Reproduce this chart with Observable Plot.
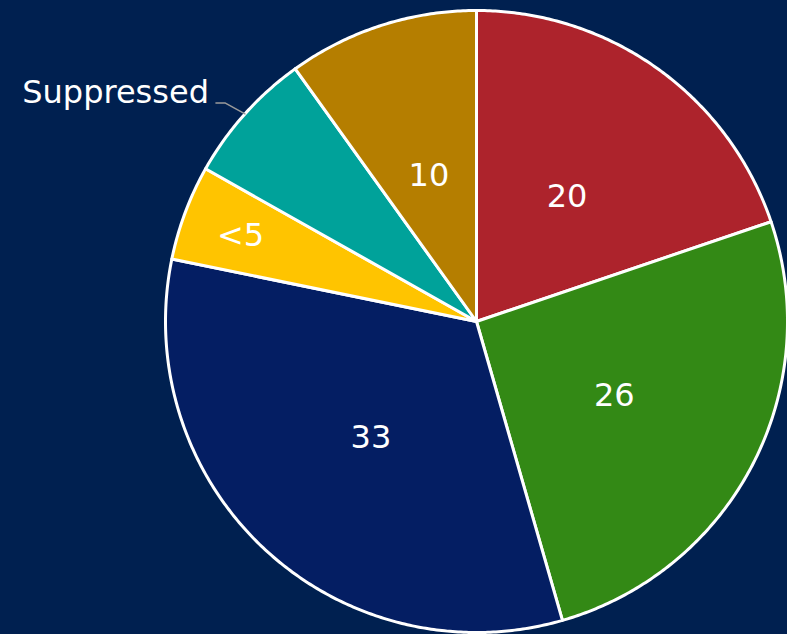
<!DOCTYPE html>
<html>
<head>
<meta charset="utf-8">
<script src="https://cdn.jsdelivr.net/npm/d3@7"></script>
<script src="https://cdn.jsdelivr.net/npm/@observablehq/plot@0.6"></script>
<style>
  html, body { margin: 0; padding: 0; background: #002050; }
  #chart svg { display: block; }
</style>
</head>
<body>
<div id="chart"></div>
<script>
// Data (clockwise from 12 o'clock)
const labels = ["20", "26", "33", "<5", "Suppressed", "10"];
const values = [20, 26, 33, 5, 7, 10];
const palette = ["#ad232c", "#338915", "#041e63", "#ffc400", "#00a29a", "#b57e00"];
const outsideLabels = ["Suppressed"];

const R = 311; // pixel radius used to convert pixel offsets to data units
const pie = d3.pie().sort(null).value(d => d)(values);

// Build polygon points for each slice (unit circle, y up)
const slicePoints = [];
pie.forEach((p, i) => {
  const label = labels[i];
  slicePoints.push({x: 0, y: 0, label});
  const n = Math.max(2, Math.ceil((p.endAngle - p.startAngle) / (Math.PI / 360)));
  for (let k = 0; k <= n; k++) {
    const a = p.startAngle + (p.endAngle - p.startAngle) * k / n;
    slicePoints.push({x: Math.sin(a), y: Math.cos(a), label});
  }
});

const insideText = [];
const leaders = [];
const outsideText = [];
pie.forEach((p, i) => {
  const label = labels[i];
  const mid = (p.startAngle + p.endAngle) / 2;
  const span = p.endAngle - p.startAngle;
  if (outsideLabels.includes(label)) {
    const e = {x: Math.sin(mid), y: Math.cos(mid)};
    const o = {x: e.x - 20 / R, y: e.y + 11 / R};
    const h = {x: o.x - 9 / R, y: o.y};
    leaders.push({...e, label}, {...o, label}, {...h, label});
    outsideText.push({x: h.x - 7 / R, y: h.y, label});
  } else {
    const rr = span < 0.35 ? 0.81 : 0.5;
    insideText.push({x: rr * Math.sin(mid), y: rr * Math.cos(mid), label});
  }
});

const font = "DejaVu Sans, Verdana, sans-serif";

const chart = Plot.plot({
  width: 787,
  height: 634,
  marginLeft: 165,
  marginRight: 0,
  marginTop: 10,
  marginBottom: 2,
  style: {background: "#002050", fontFamily: font, overflow: "visible"},
  x: {domain: [-1, 1], axis: null},
  y: {domain: [-1, 1], axis: null},
  color: {domain: labels, range: palette},
  marks: [
    Plot.line(slicePoints, {
      x: "x", y: "y", z: "label", fill: "label",
      stroke: "white", strokeWidth: 3, strokeLinejoin: "round",
      curve: "linear-closed"
    }),
    Plot.line(leaders, {x: "x", y: "y", z: "label", stroke: "#9a9a9a", strokeWidth: 1.5}),
    Plot.text(insideText, {
      x: "x", y: "y", text: "label", fill: "white",
      fontSize: 32, fontFamily: font, dy: 2
    }),
    Plot.text(outsideText, {
      x: "x", y: "y", text: "label", fill: "white",
      fontSize: 32, fontFamily: font, textAnchor: "end", dy: -10
    })
  ]
});

document.getElementById("chart").appendChild(chart);
</script>
</body>
</html>
